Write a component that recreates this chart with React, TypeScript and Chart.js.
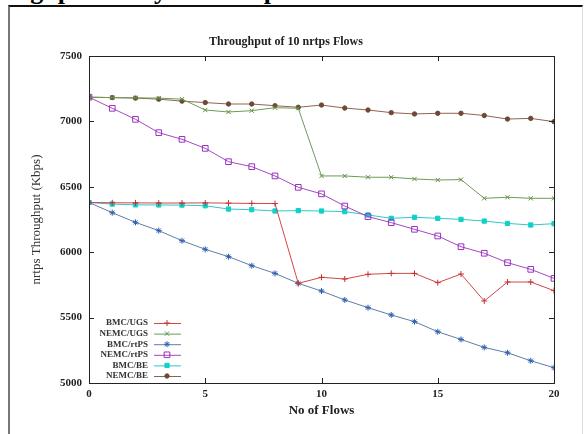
import React, { useEffect, useRef } from "react";
import { Chart, registerables } from "chart.js";
import { drawPoint } from "chart.js/helpers";

Chart.register(...registerables);

const flows = [0, 1, 2, 3, 4, 5, 6, 7, 8, 9, 10, 11, 12, 13, 14, 15, 16, 17, 18, 19, 20];

const bmcUgs = [6380, 6378, 6377, 6376, 6376, 6377, 6375, 6373, 6372, 5762, 5808, 5795, 5831, 5838, 5838, 5767, 5833, 5627, 5772, 5772, 5706];
const nemcUgs = [7185, 7182, 7180, 7178, 7170, 7087, 7072, 7082, 7105, 7100, 6583, 6583, 6573, 6573, 6560, 6552, 6555, 6412, 6420, 6412, 6412];
const bmcRtps = [6380, 6302, 6228, 6165, 6088, 6022, 5966, 5897, 5838, 5762, 5703, 5635, 5576, 5520, 5469, 5392, 5333, 5272, 5231, 5170, 5117];
const nemcRtps = [7185, 7100, 7016, 6914, 6863, 6794, 6692, 6654, 6583, 6496, 6446, 6353, 6272, 6226, 6175, 6124, 6042, 5992, 5920, 5869, 5800];
const bmcBe = [6380, 6368, 6362, 6361, 6360, 6355, 6330, 6325, 6315, 6318, 6315, 6310, 6285, 6259, 6267, 6259, 6251, 6238, 6220, 6208, 6218];
const nemcBe = [7185, 7182, 7178, 7170, 7155, 7144, 7133, 7133, 7120, 7108, 7125, 7102, 7087, 7067, 7057, 7062, 7062, 7045, 7018, 7023, 6998];

const seriesLabels = ["BMC/UGS", "NEMC/UGS", "BMC/rtPS", "NEMC/rtPS", "BMC/BE", "NEMC/BE"];
const seriesValues = [bmcUgs, nemcUgs, bmcRtps, nemcRtps, bmcBe, nemcBe];
const lineColors = ["#d04848", "#6e9a58", "#5d7ea6", "#a448c4", "#30c8c8", "#8e6450"];
const pointColors = ["#c83030", "#5a9040", "#2f5fb0", "#9a30c0", "#10d0c8", "#704838"];
const pointStyles = ["cross", "crossRot", "star", "rect", "rect", "circle"];
const pointRadii = [3, 3, 3, 4, 3, 2.2];
const pointFilled = [true, true, true, false, true, true];

const chartTitle = "Throughput of 10 nrtps Flows";
const xTitle = "No of Flows";
const yTitle = "nrtps Throughput (Kbps)";
const headingText = "Throughput Analysis of nrtps Flows";

const SERIF = '"Liberation Serif", "DejaVu Serif", "Times New Roman", serif';

const framePlugin = {
  id: "frame",
  afterDatasetsDraw(chart: any) {
    const { ctx, chartArea: a, scales } = chart;
    ctx.save();
    ctx.strokeStyle = "#222";
    ctx.lineWidth = 1;
    ctx.strokeRect(a.left + 0.5, a.top + 0.5, a.right - a.left, a.bottom - a.top);
    const len = 5;
    ctx.beginPath();
    scales.x.ticks.forEach((t: any) => {
      const px = Math.round(scales.x.getPixelForValue(t.value)) + 0.5;
      ctx.moveTo(px, a.bottom);
      ctx.lineTo(px, a.bottom - len);
      ctx.moveTo(px, a.top);
      ctx.lineTo(px, a.top + len);
    });
    scales.y.ticks.forEach((t: any) => {
      const py = Math.round(scales.y.getPixelForValue(t.value)) + 0.5;
      ctx.moveTo(a.left, py);
      ctx.lineTo(a.left + len, py);
      ctx.moveTo(a.right, py);
      ctx.lineTo(a.right - len, py);
    });
    ctx.stroke();
    ctx.restore();
  },
};

const keyPlugin = {
  id: "keyBox",
  afterDraw(chart: any) {
    const { ctx, chartArea: a } = chart;
    const ds = chart.data.datasets;
    const rowH = 10.6;
    ctx.save();
    ctx.font = `bold 9px ${SERIF}`;
    ctx.textAlign = "right";
    ctx.textBaseline = "middle";
    ds.forEach((d: any, i: number) => {
      const y = a.bottom - 7 - (ds.length - 1 - i) * rowH;
      ctx.fillStyle = "#333";
      ctx.fillText(d.label, a.left + 59, y);
      ctx.strokeStyle = d.borderColor;
      ctx.lineWidth = 1;
      ctx.beginPath();
      ctx.moveTo(a.left + 65, y + 0.5);
      ctx.lineTo(a.left + 92, y + 0.5);
      ctx.stroke();
      ctx.fillStyle = d.pointBackgroundColor;
      ctx.strokeStyle = d.pointBorderColor;
      drawPoint(ctx, { pointStyle: d.pointStyle, radius: d.pointRadius, borderWidth: 1, rotation: 0 }, a.left + 78, y);
    });
    ctx.restore();
  },
};

export default function App() {
  const ref = useRef<HTMLCanvasElement>(null);

  useEffect(() => {
    if (!ref.current) return;
    const datasets = seriesLabels.map((label, i) => ({
      label,
      data: seriesValues[i].map((v, k) => ({ x: flows[k], y: v })),
      borderColor: lineColors[i],
      backgroundColor: lineColors[i],
      borderWidth: 1,
      pointStyle: pointStyles[i],
      pointRadius: pointRadii[i],
      pointBorderWidth: 1,
      pointBorderColor: pointColors[i],
      pointBackgroundColor: pointFilled[i] ? pointColors[i] : "rgba(255,255,255,0)",
      tension: 0,
    }));
    const chart = new Chart(ref.current, {
      type: "line",
      data: { datasets },
      plugins: [framePlugin, keyPlugin],
      options: {
        responsive: false,
        animation: false,
        layout: { padding: { left: 18, right: 31, top: 28, bottom: 0 } },
        plugins: {
          legend: { display: false },
          tooltip: { enabled: false },
          title: {
            display: true,
            text: chartTitle,
            color: "#222",
            font: { family: SERIF, size: 12, weight: "bold" },
            padding: { top: 7, bottom: 6.6 },
          },
        },
        scales: {
          x: {
            type: "linear",
            min: 0,
            max: 20,
            grid: { display: false, drawTicks: false },
            border: { display: false },
            ticks: {
              stepSize: 5,
              padding: 5,
              color: "#222",
              font: { family: SERIF, size: 11, weight: "bold" },
              callback: (v: any) => String(v),
            },
            title: {
              display: true,
              text: xTitle,
              color: "#222",
              font: { family: SERIF, size: 13, weight: "bold" },
              padding: { top: 0, bottom: 16 },
            },
            afterFit: (s: any) => {
              s.height = 51;
            },
          },
          y: {
            type: "linear",
            min: 5000,
            max: 7500,
            grid: { display: false, drawTicks: false },
            border: { display: false },
            ticks: {
              stepSize: 500,
              padding: 7,
              color: "#222",
              font: { family: SERIF, size: 11, weight: "bold" },
              callback: (v: any) => String(v),
            },
            title: {
              display: true,
              text: yTitle,
              color: "#333",
              font: { family: SERIF, size: 13, weight: "normal" },
              padding: { top: 11, bottom: 0 },
            },
            afterFit: (s: any) => {
              s.width = 71;
            },
          },
        },
      },
    });
    return () => chart.destroy();
  }, []);

  return (
    <div style={{ position: "absolute", left: 0, top: 0, width: 585, height: 434, overflow: "hidden", background: "#fff" }}>
      <div
        style={{
          position: "absolute",
          left: -40,
          top: -22,
          fontFamily: SERIF,
          fontWeight: "bold",
          fontSize: 26,
          lineHeight: "26px",
          whiteSpace: "nowrap",
          color: "#000",
        }}
      >
        {headingText}
      </div>
      <div
        style={{
          position: "absolute",
          left: 8,
          top: 5,
          width: 572,
          height: 450,
          borderTop: "2px solid #111",
          borderLeft: "2px solid #777",
          borderRight: "1px solid #ddd",
        }}
      />
      <canvas ref={ref} width={585} height={434} style={{ position: "absolute", left: 0, top: 0 }} />
    </div>
  );
}
